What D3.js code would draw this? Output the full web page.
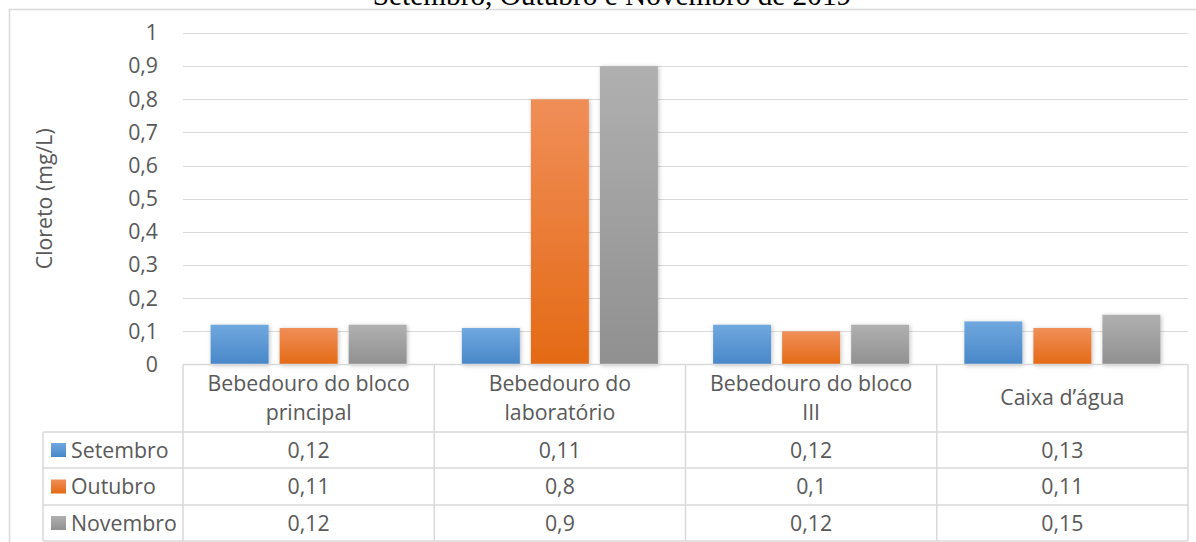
<!DOCTYPE html>
<html>
<head>
<meta charset="utf-8">
<script src="https://cdn.jsdelivr.net/npm/d3@7"></script>
<style>
  body { margin: 0; background: #fff; }
  svg { display: block; }
</style>
</head>
<body>
<svg id="chart" width="1196" height="542"></svg>
<script>
const categories = ['Bebedouro do bloco principal', 'Bebedouro do laboratório', 'Bebedouro do bloco III', 'Caixa d’água'];
const seriesNames = ['Setembro', 'Outubro', 'Novembro'];
const setembro = [0.12, 0.11, 0.12, 0.13];
const outubro = [0.11, 0.8, 0.1, 0.11];
const novembro = [0.12, 0.9, 0.12, 0.15];
const yTicks = [0, 0.1, 0.2, 0.3, 0.4, 0.5, 0.6, 0.7, 0.8, 0.9, 1];
const title = 'Setembro, Outubro e Novembro de 2019';
const yTitle = 'Cloreto (mg/L)';

const values = [setembro, outubro, novembro];
const colors = [
  ['#70a8df', '#4887c8'],
  ['#f08e58', '#e46a15'],
  ['#b0b0b0', '#909090']
];
const textColor = '#595959';
const lineColor = '#d9d9d9';
const font = '"Open Sans", sans-serif';
const fontSize = '21.3px';

const svg = d3.select('#chart');
const defs = svg.append('defs');

colors.forEach((c, i) => {
  const g = defs.append('linearGradient')
    .attr('id', 'grad' + i)
    .attr('x1', 0).attr('y1', 0).attr('x2', 0).attr('y2', 1);
  g.append('stop').attr('offset', '0%').attr('stop-color', c[0]);
  g.append('stop').attr('offset', '100%').attr('stop-color', c[1]);
});

const shadow = defs.append('filter').attr('id', 'shadow')
  .attr('x', '-20%').attr('y', '-20%').attr('width', '140%').attr('height', '140%');
shadow.append('feDropShadow')
  .attr('dx', 1).attr('dy', 1).attr('stdDeviation', 2)
  .attr('flood-color', '#000').attr('flood-opacity', 0.25);

// plot area
const plotLeft = 183, plotRight = 1188, plotTop = 33, plotBase = 364.5;
const legendLeft = 43;
const tableRows = [432, 468, 505, 541];

const x = d3.scaleBand().domain(categories).range([plotLeft, plotRight]);
const xs = d3.scaleBand().domain(seriesNames).range([0, x.bandwidth()])
  .paddingInner(0.16).paddingOuter(0.4);
const y = d3.scaleLinear().domain([0, 1]).range([plotBase, plotTop]);

// chart frame
svg.append('path')
  .attr('d', 'M9.5,542 V9.5 H1196')
  .attr('fill', 'none')
  .attr('stroke', lineColor)
  .attr('stroke-width', 1.5);

// title (cropped at top)
svg.append('text')
  .attr('x', 612).attr('y', 5)
  .attr('text-anchor', 'middle')
  .style('font-family', '"Liberation Serif", "Times New Roman", serif')
  .style('font-size', '29.3px')
  .style('fill', '#000')
  .text(title);

// gridlines
svg.append('g').selectAll('line')
  .data(yTicks.slice(1))
  .join('line')
  .attr('x1', plotLeft).attr('x2', plotRight)
  .attr('y1', d => Math.round(y(d)) + 0.5)
  .attr('y2', d => Math.round(y(d)) + 0.5)
  .attr('stroke', lineColor)
  .attr('stroke-width', 1.2);

// y axis labels
const yAxis = svg.append('g')
  .attr('transform', `translate(${plotLeft},0)`)
  .call(d3.axisLeft(y).tickValues(yTicks).tickSize(0).tickPadding(25)
    .tickFormat(d => String(d).replace('.', ',')));
yAxis.select('.domain').remove();
yAxis.selectAll('text')
  .style('font-family', font)
  .style('font-size', fontSize)
  .style('fill', textColor);

svg.append('text')
  .attr('transform', `translate(52,${(plotTop + plotBase) / 2}) rotate(-90)`)
  .attr('text-anchor', 'middle')
  .style('font-family', font)
  .style('font-size', fontSize)
  .style('fill', textColor)
  .text(yTitle);

// bars
seriesNames.forEach((s, si) => {
  svg.append('g').selectAll('rect')
    .data(values[si])
    .join('rect')
    .attr('x', (d, i) => x(categories[i]) + xs(s))
    .attr('y', d => y(d))
    .attr('width', xs.bandwidth())
    .attr('height', d => plotBase - y(d))
    .attr('fill', `url(#grad${si})`)
    .attr('filter', 'url(#shadow)');
});

// data table
const table = svg.append('g');

table.append('line')
  .attr('x1', plotLeft).attr('x2', plotRight)
  .attr('y1', plotBase).attr('y2', plotBase)
  .attr('stroke', lineColor).attr('stroke-width', 1.5);
tableRows.forEach(r => {
  table.append('line')
    .attr('x1', legendLeft).attr('x2', plotRight)
    .attr('y1', r).attr('y2', r)
    .attr('stroke', lineColor).attr('stroke-width', 1.5);
});

table.append('line')
  .attr('x1', legendLeft).attr('x2', legendLeft)
  .attr('y1', tableRows[0]).attr('y2', tableRows[3])
  .attr('stroke', lineColor).attr('stroke-width', 1.5);
categories.forEach(c => {
  table.append('line')
    .attr('x1', x(c)).attr('x2', x(c))
    .attr('y1', plotBase).attr('y2', tableRows[3])
    .attr('stroke', lineColor).attr('stroke-width', 1.5);
});
table.append('line')
  .attr('x1', plotRight).attr('x2', plotRight)
  .attr('y1', plotBase).attr('y2', tableRows[3])
  .attr('stroke', lineColor).attr('stroke-width', 1.5);

// category labels, wrapped
function wrap(textSel, width) {
  textSel.each(function() {
    const t = d3.select(this);
    const words = t.text().split(' ');
    t.text(null);
    const lines = [];
    let line = [];
    const probe = t.append('tspan');
    words.forEach(w => {
      line.push(w);
      probe.text(line.join(' '));
      if (probe.node().getComputedTextLength() > width && line.length > 1) {
        line.pop();
        lines.push(line.join(' '));
        line = [w];
      }
    });
    lines.push(line.join(' '));
    probe.remove();
    const lh = 29;
    const y0 = +t.attr('data-cy') - (lines.length - 1) * lh / 2 + 7;
    lines.forEach((l, i) => {
      t.append('tspan').attr('x', t.attr('x')).attr('y', y0 + i * lh).text(l);
    });
  });
}

table.selectAll('text.cat')
  .data(categories)
  .join('text')
  .attr('class', 'cat')
  .attr('x', d => x(d) + x.bandwidth() / 2)
  .attr('data-cy', (plotBase + tableRows[0]) / 2)
  .attr('text-anchor', 'middle')
  .style('font-family', font)
  .style('font-size', fontSize)
  .style('fill', textColor)
  .text(d => d)
  .call(wrap, 215);

// series rows
seriesNames.forEach((s, si) => {
  const cy = (tableRows[si] + tableRows[si + 1]) / 2;
  table.append('rect')
    .attr('x', 51).attr('y', cy - 7)
    .attr('width', 15).attr('height', 14)
    .attr('fill', `url(#grad${si})`);
  table.append('text')
    .attr('x', 71).attr('y', cy + 7.5)
    .style('font-family', font)
    .style('font-size', fontSize)
    .style('fill', textColor)
    .text(s);
  table.append('g').selectAll('text')
    .data(values[si])
    .join('text')
    .attr('x', (d, i) => x(categories[i]) + x.bandwidth() / 2)
    .attr('y', cy + 7.5)
    .attr('text-anchor', 'middle')
    .style('font-family', font)
    .style('font-size', fontSize)
    .style('fill', textColor)
    .text(d => String(d).replace('.', ','));
});
</script>
</body>
</html>
